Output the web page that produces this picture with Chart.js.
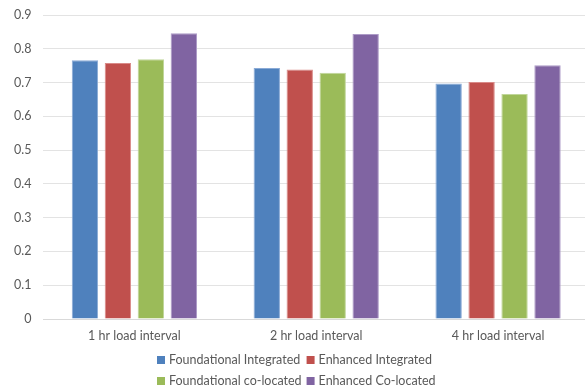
<!DOCTYPE html>
<html>
<head>
<meta charset="utf-8">
<script src="https://cdn.jsdelivr.net/npm/chart.js@4/dist/chart.umd.min.js"></script>
<style>
  html, body { margin: 0; padding: 0; background: #ffffff; overflow: hidden; }
  #wrap { position: relative; width: 590px; height: 390px; }
</style>
</head>
<body>
<div id="wrap"><canvas id="chart"></canvas></div>
<script>
// Load intervals on the category axis
const categories = ['1 hr load interval', '2 hr load interval', '4 hr load interval'];

// Series values per load interval
const foundationalIntegrated = [0.766, 0.743, 0.697];
const enhancedIntegrated     = [0.758, 0.739, 0.702];
const foundationalCoLocated  = [0.769, 0.729, 0.666];
const enhancedCoLocated      = [0.846, 0.844, 0.751];

const seriesNames = ['Foundational Integrated', 'Enhanced Integrated', 'Foundational co-located', 'Enhanced Co-located'];
const yTicks = [0, 0.1, 0.2, 0.3, 0.4, 0.5, 0.6, 0.7, 0.8, 0.9];

const colors = ['#4f81bd', '#c0504d', '#9bbb59', '#8064a2'];
const edges  = ['#8aaad6', '#d98a88', '#c0d69a', '#ad9bc7'];
const FONT = 'Lato, "Open Sans", sans-serif';
const TEXT = '#595959';

// Two-row legend drawn under the axis labels
const legendRows = [[0, 1], [2, 3]];
const bottomLegend = {
  id: 'bottomLegend',
  afterDraw(chart) {
    const ctx = chart.ctx;
    ctx.save();
    ctx.font = '12.5px ' + FONT;
    ctx.textBaseline = 'middle';
    ctx.textAlign = 'left';
    const box = 8, gapText = 4, gapItem = 5;
    // shared column layout so both rows line up
    const col0 = Math.max(...legendRows.map(r => ctx.measureText(seriesNames[r[0]]).width));
    const col1 = Math.max(...legendRows.map(r => ctx.measureText(seriesNames[r[1]]).width));
    const total = box + gapText + col0 + gapItem + box + gapText + col1;
    const startX = Math.round(296 - total / 2);
    const rowY = [360, 381];
    legendRows.forEach((row, ri) => {
      let x = startX;
      row.forEach((si, ci) => {
        ctx.fillStyle = colors[si];
        ctx.fillRect(x, rowY[ri] - box / 2, box, box);
        ctx.fillStyle = TEXT;
        ctx.fillText(chart.data.datasets[si].label, x + box + gapText, rowY[ri]);
        x += box + gapText + (ci === 0 ? col0 : col1) + gapItem;
      });
    });
    ctx.restore();
  }
};

const seriesData = [foundationalIntegrated, enhancedIntegrated, foundationalCoLocated, enhancedCoLocated];

new Chart(document.getElementById('chart'), {
  type: 'bar',
  data: {
    labels: categories,
    datasets: seriesData.map((d, i) => ({
      label: seriesNames[i],
      data: d,
      backgroundColor: colors[i],
      borderColor: edges[i],
      borderWidth: 1,
      categoryPercentage: 0.725,
      barPercentage: 0.8
    }))
  },
  options: {
    responsive: true,
    maintainAspectRatio: false,
    animation: false,
    layout: { padding: { top: 15, right: 1, left: 2, bottom: 38 } },
    plugins: {
      legend: { display: false },
      title: { display: false },
      tooltip: { enabled: false }
    },
    scales: {
      x: {
        grid: { display: false, drawTicks: false },
        border: { display: true, color: '#d9d9d9', width: 1 },
        ticks: { color: TEXT, font: { family: FONT, size: 12.5 }, padding: 9, maxRotation: 0 }
      },
      y: {
        min: 0,
        max: 0.9,
        afterBuildTicks(scale) { scale.ticks = yTicks.map(v => ({ value: v })); },
        afterFit(scale) { scale.paddingTop = 0; },
        grid: { color: '#e3e3e3', drawTicks: false, lineWidth: 1 },
        border: { display: false },
        ticks: {
          color: TEXT,
          font: { family: FONT, size: 12.5 },
          padding: 12,
          callback: v => (v === 0 ? '0' : String(Math.round(v * 10) / 10))
        }
      }
    }
  },
  plugins: [bottomLegend]
});
</script>
</body>
</html>
